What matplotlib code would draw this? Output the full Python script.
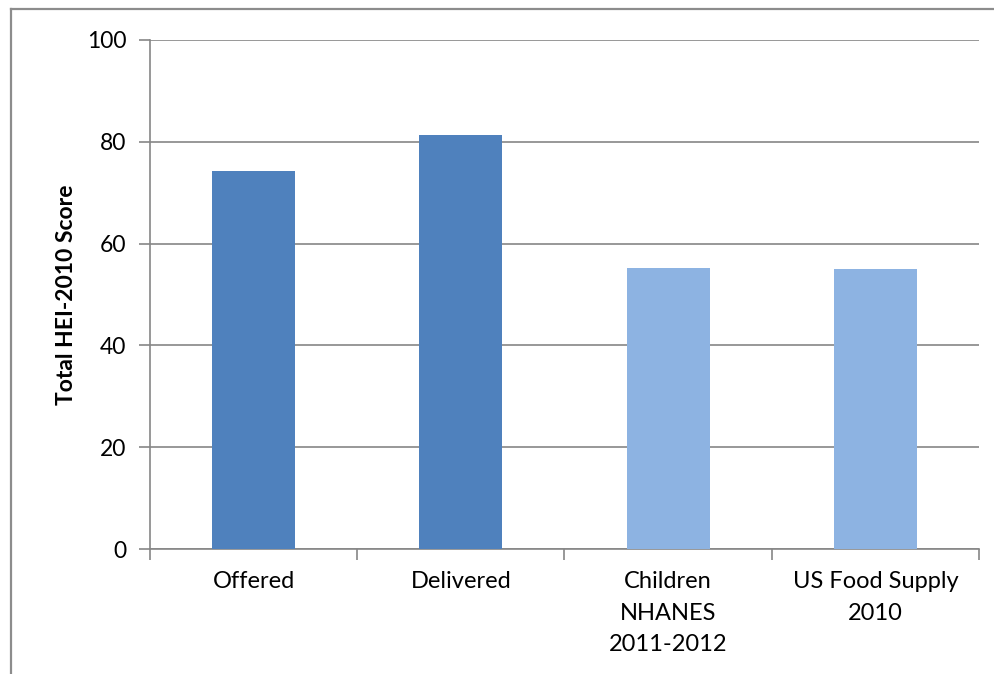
import matplotlib.pyplot as plt
from matplotlib.lines import Line2D

# HEI-2010 total scores per meal source
categories = ["Offered", "Delivered", "Children\nNHANES\n2011-2012", "US Food Supply\n2010"]
scores = [74.3, 81.3, 55.2, 55.0]
bar_colors = ["#4F81BD", "#4F81BD", "#8DB3E2", "#8DB3E2"]
y_ticks = [0, 20, 40, 60, 80, 100]

plt.rcParams["font.family"] = ["Lato", "DejaVu Sans"]

fig = plt.figure(figsize=(9.95, 6.74), dpi=100)
ax = fig.add_axes([150 / 995, 125 / 674, 829 / 995, 509 / 674])

centers = [i + 0.5 for i in range(len(categories))]
ax.bar(centers, scores, width=0.4, color=bar_colors, zorder=3)

ax.set_xlim(0, len(categories))
ax.set_ylim(0, 100)
ax.set_yticks(y_ticks)
ax.yaxis.grid(True, color="#868686", linewidth=1.2, zorder=0)

# category boundaries get the tick marks, centers carry the labels
ax.set_xticks(range(len(categories) + 1))
ax.set_xticklabels([])
ax.set_xticks(centers, minor=True)
ax.set_xticklabels(categories, minor=True, fontsize=17, linespacing=1.62)
ax.tick_params(axis="x", which="major", length=8, width=1.2, color="#868686", direction="out")
ax.tick_params(axis="x", which="minor", length=0, pad=16)
ax.tick_params(axis="y", length=8, width=1.2, color="#868686", labelsize=16.5, pad=9)

for side in ["top", "right"]:
    ax.spines[side].set_visible(False)
for side in ["left", "bottom"]:
    ax.spines[side].set_color("#868686")
    ax.spines[side].set_linewidth(1.2)

ax.set_ylabel("Total HEI-2010 Score", fontsize=16.5, fontweight="bold", labelpad=7)

# outer chart frame
W, H = 995, 674
frame_kw = dict(color="#8C8C8C", linewidth=1.6, transform=fig.transFigure)
fig.add_artist(Line2D([11 / W, 11 / W], [0, 1 - 9 / H], **frame_kw))
fig.add_artist(Line2D([11 / W, 1], [1 - 9 / H, 1 - 9 / H], **frame_kw))

fig.savefig("out.png", dpi=100)
